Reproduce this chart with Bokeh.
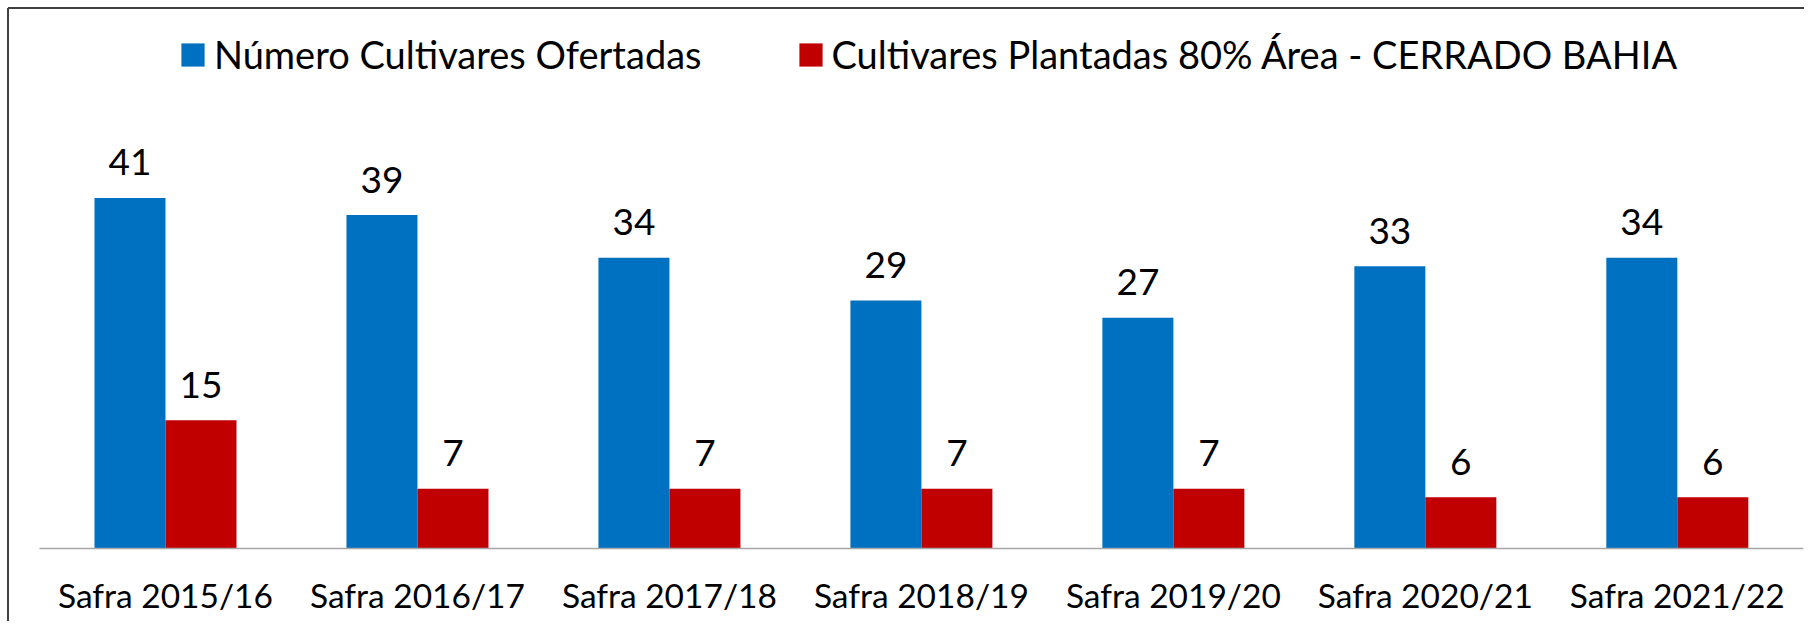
from bokeh.plotting import figure
from bokeh.models import ColumnDataSource, Range1d, Legend, LegendItem
from bokeh.core.properties import value
from bokeh.transform import dodge
from bokeh.embed import file_html
from bokeh.resources import INLINE

# ---- data ----
safras = ["Safra 2015/16", "Safra 2016/17", "Safra 2017/18", "Safra 2018/19",
          "Safra 2019/20", "Safra 2020/21", "Safra 2021/22"]
ofertadas = [41, 39, 34, 29, 27, 33, 34]
plantadas = [15, 7, 7, 7, 7, 6, 6]
serie_nomes = ["Número Cultivares Ofertadas",
               "Cultivares Plantadas 80% Área - CERRADO BAHIA"]

BLUE = "#0070C0"
RED = "#C00000"
FONT = "Lato"

idx = list(range(len(safras)))
src = ColumnDataSource(dict(
    idx=idx, safra=safras, ofertadas=ofertadas, plantadas=plantadas,
    lab_o=[str(v) for v in ofertadas], lab_p=[str(v) for v in plantadas],
))

W, H = 1804, 621
# pixel layout of the plotting area
cx0, step = 165.0, 251.97      # px of first category centre, px per category
base, unit = 548.0, 8.55       # px of y=0, px per unit
x_start, x_end = -cx0 / step, (W - cx0) / step
y_start, y_end = -(H - base) / unit, base / unit

p = figure(width=W, height=H, output_backend="svg", toolbar_location=None,
           x_range=Range1d(x_start, x_end), y_range=Range1d(y_start, y_end),
           x_axis_type=None, y_axis_type=None, min_border=0)
p.grid.visible = False
p.outline_line_color = None
p.background_fill_color = "white"
p.border_fill_color = "white"

bw = 71.0 / step
off = bw / 2

r1 = p.vbar(x=dodge("idx", -off, range=p.x_range), top="ofertadas", width=bw,
            bottom=0, source=src, fill_color=BLUE, line_color=None)
r2 = p.vbar(x=dodge("idx", off, range=p.x_range), top="plantadas", width=bw,
            bottom=0, source=src, fill_color=RED, line_color=None)

# baseline (category axis line)
p.segment(x0=-0.5, x1=len(safras) - 0.5, y0=0, y1=0,
          line_color="#A6A6A6", line_width=1.5)

# value labels
p.text(x=dodge("idx", -off, range=p.x_range), y="ofertadas", text="lab_o", source=src,
       text_align="center", text_baseline="alphabetic", y_offset=-35.5,
       text_font=value(FONT), text_font_size="37px", text_color="black")
p.text(x=dodge("idx", off, range=p.x_range), y="plantadas", text="lab_p", source=src,
       text_align="center", text_baseline="alphabetic", y_offset=-35.5,
       text_font=value(FONT), text_font_size="37px", text_color="black")

# category labels
p.text(x="idx", y=-46.0 / unit, text="safra", source=src,
       text_align="center", text_baseline="alphabetic",
       text_font=value(FONT), text_font_size="33.5px", text_color="black")

# chart border (left and top)
bx = (7.5 - cx0) / step
by = (base - 7.5) / unit
p.segment(x0=[bx, bx], y0=[by, by], x1=[bx, x_end], y1=[y_start, by],
          line_color="#404040", line_width=2)

legend = Legend(items=[LegendItem(label=serie_nomes[0], renderers=[r1]),
                       LegendItem(label=serie_nomes[1], renderers=[r2])],
                orientation="horizontal", location=(178, 544),
                padding=0, margin=0, spacing=94, label_standoff=7,
                glyph_width=29, glyph_height=29,
                label_text_font=FONT, label_text_font_size="38px",
                label_text_color="black",
                border_line_color=None, background_fill_alpha=0)
p.add_layout(legend)

open("out.html", "w").write(file_html(p, INLINE))
